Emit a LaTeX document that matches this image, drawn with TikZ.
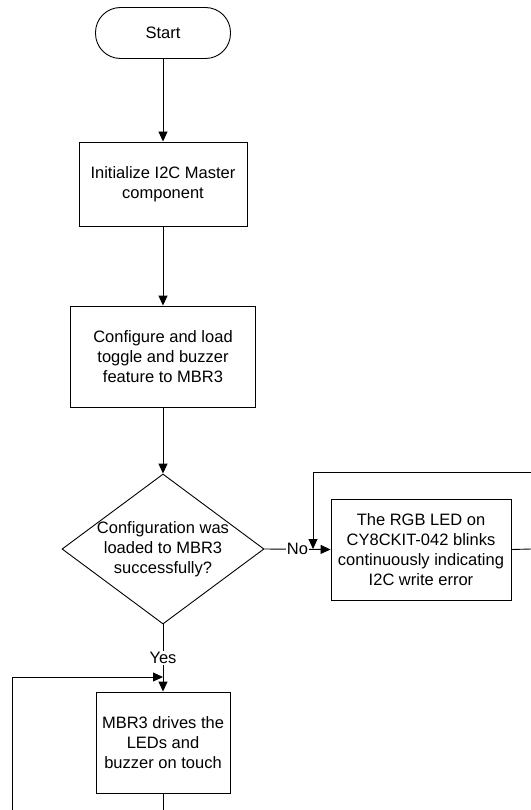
\documentclass[tikz,border=0pt]{standalone}
\usepackage{fontspec}
\setmainfont{Liberation Sans}
\usetikzlibrary{shapes.geometric,arrows.meta}
\begin{document}
\begin{tikzpicture}[x=1pt,y=-1pt,
  every node/.style={font=\fontsize{16.5}{20}\selectfont, align=center},
  line/.style={draw=black, line width=0.9pt},
  arr/.style={line, -{Triangle[length=10pt,width=9pt]}},
  proc/.style={draw=black, line width=0.9pt, rectangle, inner sep=0pt},
  term/.style={draw=black, line width=0.9pt, rectangle, rounded corners=25pt, inner sep=0pt},
  lbl/.style={fill=white, inner sep=1pt}
]
\useasboundingbox (0,0) rectangle (530,810);

\node[term, minimum width=135pt, minimum height=51pt] (start) at (163,33) {Start};
\node[proc, minimum width=168pt, minimum height=84pt] (init) at (163,184) {Initialize I2C Master\\component};
\node[proc, minimum width=185pt, minimum height=101pt] (conf) at (163,356.5) {Configure and load\\toggle and buzzer\\feature to MBR3};
\node[draw=black, line width=0.9pt, diamond, minimum width=202pt, minimum height=150pt, inner sep=0pt] (dec) at (163,549) {};
\node (dectext) at (dec.center) {Configuration was\\loaded to MBR3\\successfully?};
\node[proc, minimum width=180pt, minimum height=101pt] (err) at (421,549.5) {The RGB LED on\\CY8CKIT-042 blinks\\continuously indicating\\I2C write error};
\node[proc, minimum width=134pt, minimum height=101pt] (drive) at (163,742.5) {MBR3 drives the\\LEDs and\\buzzer on touch};

\coordinate (errout) at (531,549);
\coordinate (loopin) at (531,472);
\coordinate (loopcorner) at (313,472);
\coordinate (looptip) at (313,549);
\coordinate (lefttop) at (12,677);
\coordinate (leftbot) at (12,811);
\coordinate (drivetip) at (163,677);
\coordinate (driveout) at (163,811);

\draw[arr] (start.south) -- (init.north);
\draw[arr] (init.south) -- (conf.north);
\draw[arr] (conf.south) -- (dec.north);
\draw[arr] (dec.east) -- node[lbl] (no) {No} (err.west);
\draw[line] (err.east) -- (errout);
\draw[arr] (loopin) -- (loopcorner) -- (looptip);
\draw[arr] (dec.south) -- node[lbl] (yes) {Yes} (drive.north);
\draw[arr] (leftbot) -- (lefttop) -- (drivetip);
\draw[line] (drive.south) -- (driveout);
\end{tikzpicture}
\end{document}
